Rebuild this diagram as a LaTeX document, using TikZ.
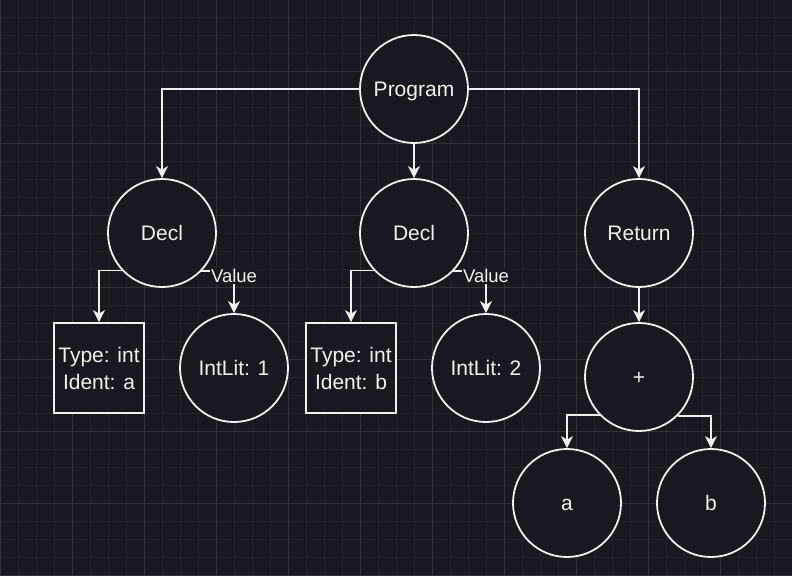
\documentclass[tikz,border=0pt]{standalone}
\usepackage{fontspec}
\setmainfont{Liberation Sans}
\usetikzlibrary{arrows.meta}
\definecolor{bg}{HTML}{1B1720}
\definecolor{gminor}{HTML}{242028}
\definecolor{gmajor}{HTML}{333038}
\definecolor{fg}{HTML}{F0F0F0}
\tikzset{
  every node/.style={text=fg},
  circ/.style={circle, draw=fg, fill=bg, line width=1.8pt, minimum size=108pt, inner sep=0pt, text height=15pt, text depth=0pt, font=\fontsize{21}{27}\selectfont},
  sq/.style={rectangle, draw=fg, fill=bg, line width=1.8pt, minimum width=90pt, minimum height=90pt, inner sep=0pt, align=center, font=\fontsize{21}{27}\selectfont},
  arr/.style={draw=fg, line width=1.8pt, -{Stealth[length=12pt,width=12pt,inset=3.5pt]}},
  lbl/.style={fill=bg, inner sep=1.5pt, font=\fontsize{18.5}{22}\selectfont}
}
\begin{document}
\begin{tikzpicture}[x=1pt,y=-1pt]
\useasboundingbox (0,0) rectangle (792,576);
\fill[bg] (0,0) rectangle (792,576);
% grid
\foreach \x in {0,18,...,792} \draw[gminor, line width=1pt] (\x,0) -- (\x,576);
\foreach \y in {17,35,...,576} \draw[gminor, line width=1pt] (0,\y) -- (792,\y);
\foreach \x in {0,72,...,792} \draw[gmajor, line width=1pt] (\x,0) -- (\x,576);
\foreach \y in {71,143,...,576} \draw[gmajor, line width=1pt] (0,\y) -- (792,\y);
% nodes
\node[circ] (prog) at (414,89) {Program};
\node[circ] (d1) at (162,233) {Decl};
\node[circ] (d2) at (414,233) {Decl};
\node[circ] (ret) at (639,233) {Return};
\node[sq] (b1) at (99,368) {Type: int\\Ident: a};
\node[circ] (i1) at (234,368) {IntLit: 1};
\node[sq] (b2) at (351,368) {Type: int\\Ident: b};
\node[circ] (i2) at (486,368) {IntLit: 2};
\node[circ] (plus) at (639,377) {+};
\node[circ] (va) at (567,503) {a};
\node[circ] (vb) at (711,503) {b};
% edges
\draw[arr] (prog.west) -| (d1.north);
\draw[arr] (prog) -- (d2);
\draw[arr] (prog.east) -| (ret.north);
\draw[arr] (d1.223.3) -| (b1.north);
\draw[arr] (d1.316.7) -| node[lbl, pos=0.56] (v1) {Value} (i1.north);
\draw[arr] (d2.223.3) -| (b2.north);
\draw[arr] (d2.316.7) -| node[lbl, pos=0.56] (v2) {Value} (i2.north);
\draw[arr] (ret) -- (plus);
\draw[arr] (plus.224.7) -| (va.north);
\draw[arr] (plus.315.3) -| (vb.north);
\end{tikzpicture}
\end{document}
